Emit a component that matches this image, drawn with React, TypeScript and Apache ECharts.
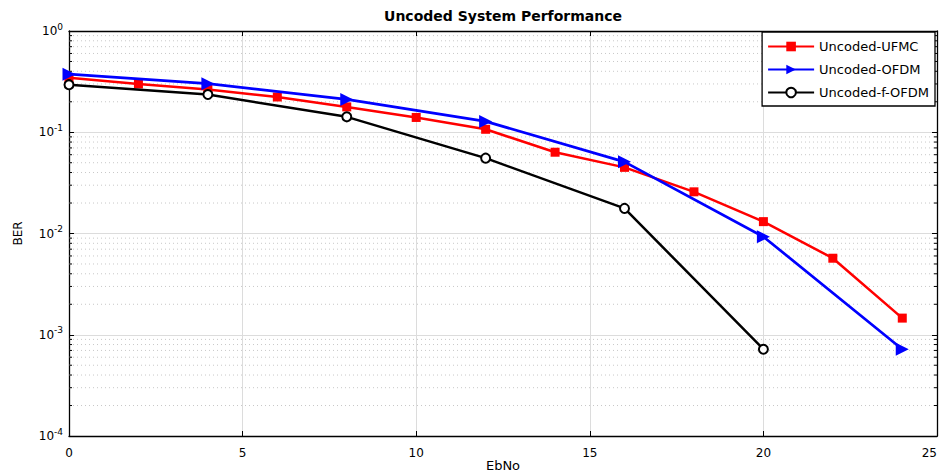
import React, { useEffect, useRef } from "react";
import * as echarts from "echarts";

const ufmcX = [0, 2, 4, 6, 8, 10, 12, 14, 16, 18, 20, 22, 24];
const ufmcY = [0.345, 0.3, 0.265, 0.223, 0.178, 0.14, 0.107, 0.0635, 0.045, 0.0258, 0.0131, 0.0057, 0.00146];
const ofdmX = [0, 4, 8, 12, 16, 20, 24];
const ofdmY = [0.375, 0.302, 0.211, 0.128, 0.051, 0.0093, 0.00072];
const fofdmX = [0, 4, 8, 12, 16, 20];
const fofdmY = [0.295, 0.236, 0.142, 0.0555, 0.0177, 0.00072];
const seriesNames = ["Uncoded-UFMC", "Uncoded-OFDM", "Uncoded-f-OFDM"];
const minorY: number[] = [];
for (let e = -4; e < 0; e++) {
  for (let m = 2; m <= 9; m++) minorY.push(Number((m * Math.pow(10, e)).toPrecision(2)));
}

const FONT = "DejaVu Sans, Verdana, sans-serif";

export default function App() {
  const ref = useRef<HTMLDivElement>(null);
  useEffect(() => {
    if (!ref.current) return;
    const chart = echarts.init(ref.current, undefined, { renderer: "svg" });
    const zip = (xs: number[], ys: number[]) => xs.map((x, i) => [x, ys[i]]);
    const axisCommon = {
      axisLine: { show: true, onZero: false, lineStyle: { color: "#000", width: 1.3 } },
      axisTick: { show: true, inside: true, length: 5, lineStyle: { color: "#000" } },
    };
    chart.setOption({
      animation: false,
      backgroundColor: "#fff",
      textStyle: { fontFamily: FONT },
      graphic: [
        {
          type: "text",
          x: 503,
          y: 9,
          style: {
            text: "Uncoded System Performance",
            font: "bold 14px " + FONT,
            fill: "#000",
            textAlign: "center",
          },
        },
        {
          type: "text",
          x: 503,
          y: 459,
          style: {
            text: "EbNo",
            font: "13px " + FONT,
            fill: "#000",
            textAlign: "center",
          },
        },
      ],
      grid: { left: 69, top: 31, right: 5, bottom: 39, containLabel: false, outerBoundsMode: "none" },
      legend: {
        orient: "vertical",
        right: 7,
        top: 32,
        backgroundColor: "#fff",
        borderColor: "#000",
        borderWidth: 1.3,
        padding: [8, 6, 7, 5],
        itemWidth: 46,
        itemHeight: 12,
        itemGap: 10,
        data: seriesNames,
        textStyle: { fontSize: 13, color: "#000", fontFamily: FONT, padding: [0, 0, 0, 0] },
      },
      xAxis: [
        {
          type: "value",
          min: 0,
          max: 25,
          interval: 5,
          ...axisCommon,
          axisLabel: { color: "#000", fontSize: 12, margin: 11, fontFamily: FONT, alignMaxLabel: "right" },
          splitLine: { show: true, lineStyle: { color: "#dcdcdc", width: 1 } },
        },
        {
          type: "value",
          position: "top",
          min: 0,
          max: 25,
          interval: 5,
          ...axisCommon,
          axisLabel: { show: false },
          splitLine: { show: false },
        },
      ],
      yAxis: [
        {
          type: "log",
          logBase: 10,
          min: 1e-4,
          max: 1,
          name: "BER",
          nameLocation: "middle",
          nameGap: 45,
          nameTextStyle: { fontSize: 12, color: "#000", fontFamily: FONT },
          ...axisCommon,
          axisLabel: {
            color: "#000",
            fontSize: 12,
            margin: 6,
            formatter: (v: number) => "{b|10}{s|" + Math.round(Math.log10(v)) + "}",
            rich: {
              b: { fontSize: 12, color: "#000", fontFamily: FONT },
              s: { fontSize: 9, color: "#000", fontFamily: FONT, padding: [0, 0, 9, 0] },
            },
          },
          splitLine: { show: true, lineStyle: { color: "#dcdcdc", width: 1 } },
        },
        {
          type: "log",
          logBase: 10,
          min: 1e-4,
          max: 1,
          position: "right",
          ...axisCommon,
          axisLabel: { show: false },
          splitLine: { show: false },
        },
      ],
      series: [
        {
          type: "custom",
          silent: true,
          xAxisIndex: 0,
          yAxisIndex: 0,
          data: minorY.map((v) => [0, v]),
          encode: { x: 0, y: 1 },
          z: 1,
          renderItem: (params: any, api: any) => {
            const v = api.value(1);
            const a = api.coord([0, v]);
            const b = api.coord([25, v]);
            return {
              type: "group",
              children: [
                {
                  type: "line",
                  shape: { x1: a[0], y1: a[1], x2: b[0], y2: b[1] },
                  style: { stroke: "#c8c8c8", lineWidth: 1, lineDash: [1, 3] },
                },
                {
                  type: "line",
                  shape: { x1: a[0], y1: a[1], x2: a[0] + 3, y2: a[1] },
                  style: { stroke: "#000", lineWidth: 1 },
                },
                {
                  type: "line",
                  shape: { x1: b[0] - 3, y1: b[1], x2: b[0], y2: b[1] },
                  style: { stroke: "#000", lineWidth: 1 },
                },
              ],
            };
          },
        },
        {
          name: seriesNames[0],
          type: "line",
          data: zip(ufmcX, ufmcY),
          color: "#ff0000",
          lineStyle: { width: 2.5, color: "#ff0000" },
          symbol: "rect",
          symbolSize: 9,
          itemStyle: { color: "#ff0000" },
          z: 3,
        },
        {
          name: seriesNames[1],
          type: "line",
          data: zip(ofdmX, ofdmY),
          color: "#0000ff",
          lineStyle: { width: 2.7, color: "#0000ff" },
          symbol: "triangle",
          symbolRotate: -90,
          symbolSize: 13,
          itemStyle: { color: "#0000ff" },
          z: 4,
        },
        {
          name: seriesNames[2],
          type: "line",
          data: zip(fofdmX, fofdmY),
          color: "#000",
          lineStyle: { width: 2.5, color: "#000" },
          symbol: "emptyCircle",
          symbolSize: 9,
          itemStyle: { color: "#000", borderColor: "#000", borderWidth: 2.5 },
          z: 5,
        },
      ],
    });
    return () => chart.dispose();
  }, []);
  return (
    <div
      ref={ref}
      style={{ position: "fixed", left: 0, top: 0, width: 942, height: 475, background: "#fff" }}
    />
  );
}
